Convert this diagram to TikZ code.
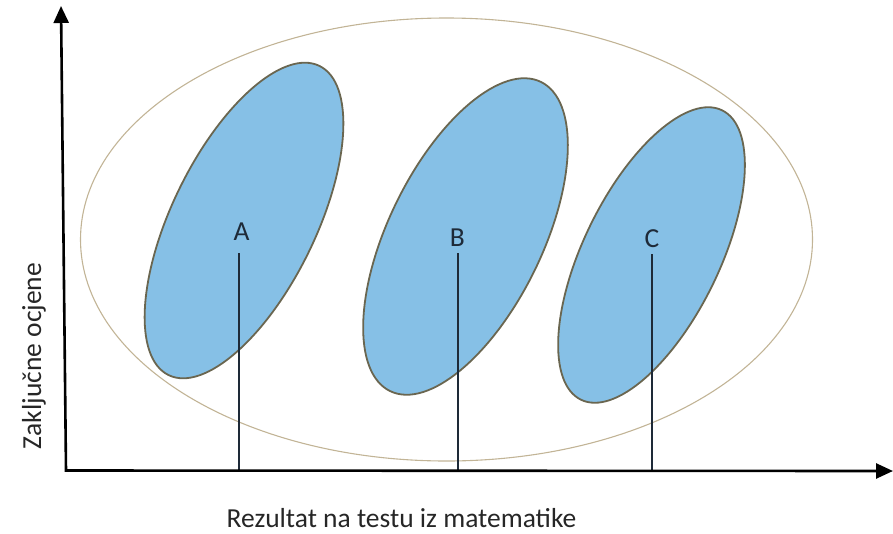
\documentclass[tikz,border=0pt]{standalone}
\usepackage{fontspec}
\setmainfont{Carlito}
\usetikzlibrary{shapes.geometric,arrows.meta}
\definecolor{blobfill}{HTML}{86C0E6}
\definecolor{blobline}{HTML}{6A6650}
\definecolor{outerline}{HTML}{C2B496}
\definecolor{labelcol}{HTML}{1E2A38}
\definecolor{textcol}{HTML}{262626}
\begin{document}
\begin{tikzpicture}[x=1pt,y=-1pt,
  blob/.style={ellipse, draw=blobline, fill=blobfill, line width=1.8pt, inner sep=0pt, rotate=64},
  outer/.style={ellipse, draw=outerline, line width=1.1pt, inner sep=0pt, minimum width=732pt, minimum height=443pt},
  axis/.style={line width=2.6pt, line join=miter, {Triangle[length=17pt,width=15pt]}-{Triangle[length=17pt,width=15pt]}},
  marker/.style={line width=2pt, draw=labelcol},
  grp/.style={font=\fontsize{27.5}{30}\selectfont, text=labelcol, inner sep=0pt, anchor=base},
  axlabel/.style={font=\fontsize{27.5}{30}\selectfont, text=textcol, inner sep=0pt, anchor=base}]
\useasboundingbox (0,0) rectangle (893,533);
% outer ellipse
\node[outer] (outer) at (446.5,239.5) {};
% group ellipses
\node[blob, minimum width=344pt, minimum height=144pt] (ea) at (244,220.5) {};
\node[blob, minimum width=344pt, minimum height=154pt] (eb) at (465.5,236.5) {};
\node[blob, minimum width=322pt, minimum height=136pt] (ec) at (651.5,255) {};
% group labels
\node[grp] (A) at (241.5,240) {A};
\node[grp] (B) at (457.3,246.5) {B};
\node[grp] (C) at (652,247.5) {C};
% marker lines
\coordinate (ta) at (238.5,253);
\coordinate (fa) at (238.5,470.5);
\coordinate (tb) at (457.5,253);
\coordinate (fb) at (457.5,470.5);
\coordinate (tc) at (652.3,254);
\coordinate (fc) at (652.3,470.5);
\draw[marker] (ta) -- (fa);
\draw[marker] (tb) -- (fb);
\draw[marker] (tc) -- (fc);
% axes
\coordinate (O) at (66,470.5);
\coordinate (ytip) at (61,6);
\coordinate (xtip) at (893,471);
\draw[axis] (ytip) -- (O) -- (xtip);
% axis labels
\node[axlabel] (xl) at (401.5,527) {Rezultat na testu iz matematike};
\node[axlabel, rotate=90] (yl) at (41,356) {Zaključne ocjene};
\end{tikzpicture}
\end{document}
